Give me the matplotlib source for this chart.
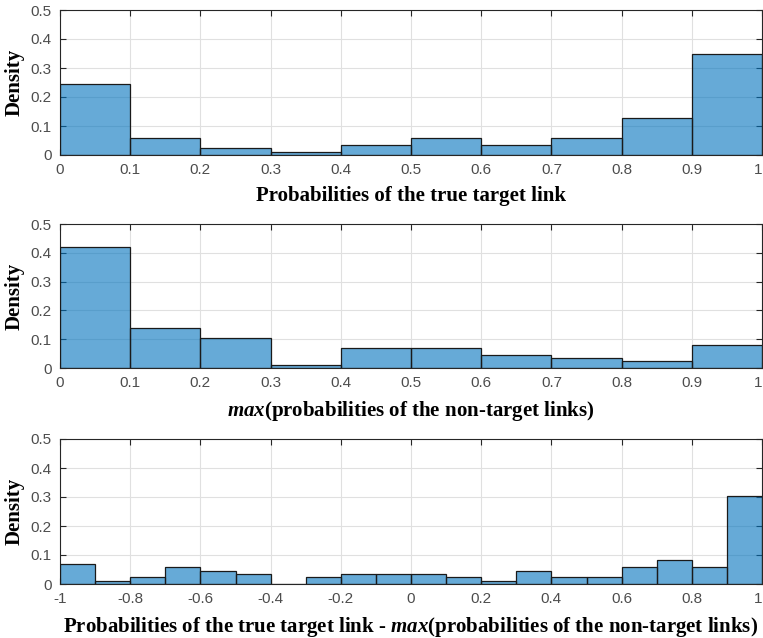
import numpy as np
import matplotlib
matplotlib.use("Agg")
import matplotlib.pyplot as plt

# histogram values (probability per bin, n = 86 samples)
n_total = 86
edges_p = np.round(np.arange(0, 1.01, 0.1), 2)
counts_true = [21, 5, 2, 1, 3, 5, 3, 5, 11, 30]
counts_max = [36, 12, 9, 1, 6, 6, 4, 3, 2, 7]
edges_d = np.round(np.arange(-1, 1.01, 0.1), 2)
counts_diff = [6, 1, 2, 5, 4, 3, 0, 2, 3, 3, 3, 2, 1, 4, 2, 2, 5, 7, 5, 26]

xlabels = ["Probabilities of the true target link",
           r"$\mathit{max}$(probabilities of the non-target links)",
           r"Probabilities of the true target link - $\mathit{max}$(probabilities of the non-target links)"]

face = (0.0, 0.447, 0.741)
tick_font = ["Liberation Sans Narrow", "Liberation Sans", "DejaVu Sans"]
label_font = ["Liberation Serif", "DejaVu Serif"]
plt.rcParams["mathtext.fontset"] = "custom"
plt.rcParams["mathtext.it"] = "Liberation Serif:italic:bold"
plt.rcParams["mathtext.rm"] = "Liberation Serif:bold"

fig = plt.figure(figsize=(7.63, 6.38), dpi=100)
W, H = 763, 638
boxes = [(10, 155), (224, 368), (439, 584)]
datasets = [(edges_p, counts_true), (edges_p, counts_max), (edges_d, counts_diff)]

for (top, bot), (edges, counts), xl in zip(boxes, datasets, xlabels):
    ax = fig.add_axes([60 / W, 1 - bot / H, 702 / W, (bot - top) / H])
    dens = np.array(counts) / n_total
    ax.bar(edges[:-1], dens, width=np.diff(edges), align="edge",
           color=face, alpha=0.6, edgecolor="none", zorder=2)
    ax.bar(edges[:-1], dens, width=np.diff(edges), align="edge",
           facecolor="none", edgecolor="#1a1a1a", linewidth=0.9, zorder=3)
    ax.set_xlim(edges[0], edges[-1])
    ax.set_ylim(0, 0.5)
    ax.set_yticks([0, 0.1, 0.2, 0.3, 0.4, 0.5])
    ax.set_yticklabels(["0", "0.1", "0.2", "0.3", "0.4", "0.5"])
    if edges[0] < 0:
        xt = np.round(np.arange(-1, 1.01, 0.2), 1)
    else:
        xt = np.round(np.arange(0, 1.01, 0.1), 1)
    ax.set_xticks(xt)
    ax.set_xticklabels(["%g" % (0.0 if abs(v) < 1e-9 else v) for v in xt])
    ax.grid(True, color="#e0e0e0", linewidth=0.8, zorder=0)
    ax.set_axisbelow(True)
    ax.tick_params(direction="in", top=True, right=True, length=4,
                   width=0.8, colors="#262626", labelsize=11, pad=6)
    for lbl in ax.get_xticklabels() + ax.get_yticklabels():
        lbl.set_family(tick_font)
        lbl.set_color("#4d4d4d")
    ax.get_xticklabels()[-1].set_horizontalalignment("right")
    for s in ax.spines.values():
        s.set_color("#262626")
        s.set_linewidth(0.8)
    ax.set_ylabel("Density", family=label_font, fontweight="bold",
                  fontsize=15, labelpad=4)
    ax.set_xlabel(xl, family=label_font, fontweight="bold", fontsize=15,
                  labelpad=6)

fig.savefig("out.png", dpi=100)
